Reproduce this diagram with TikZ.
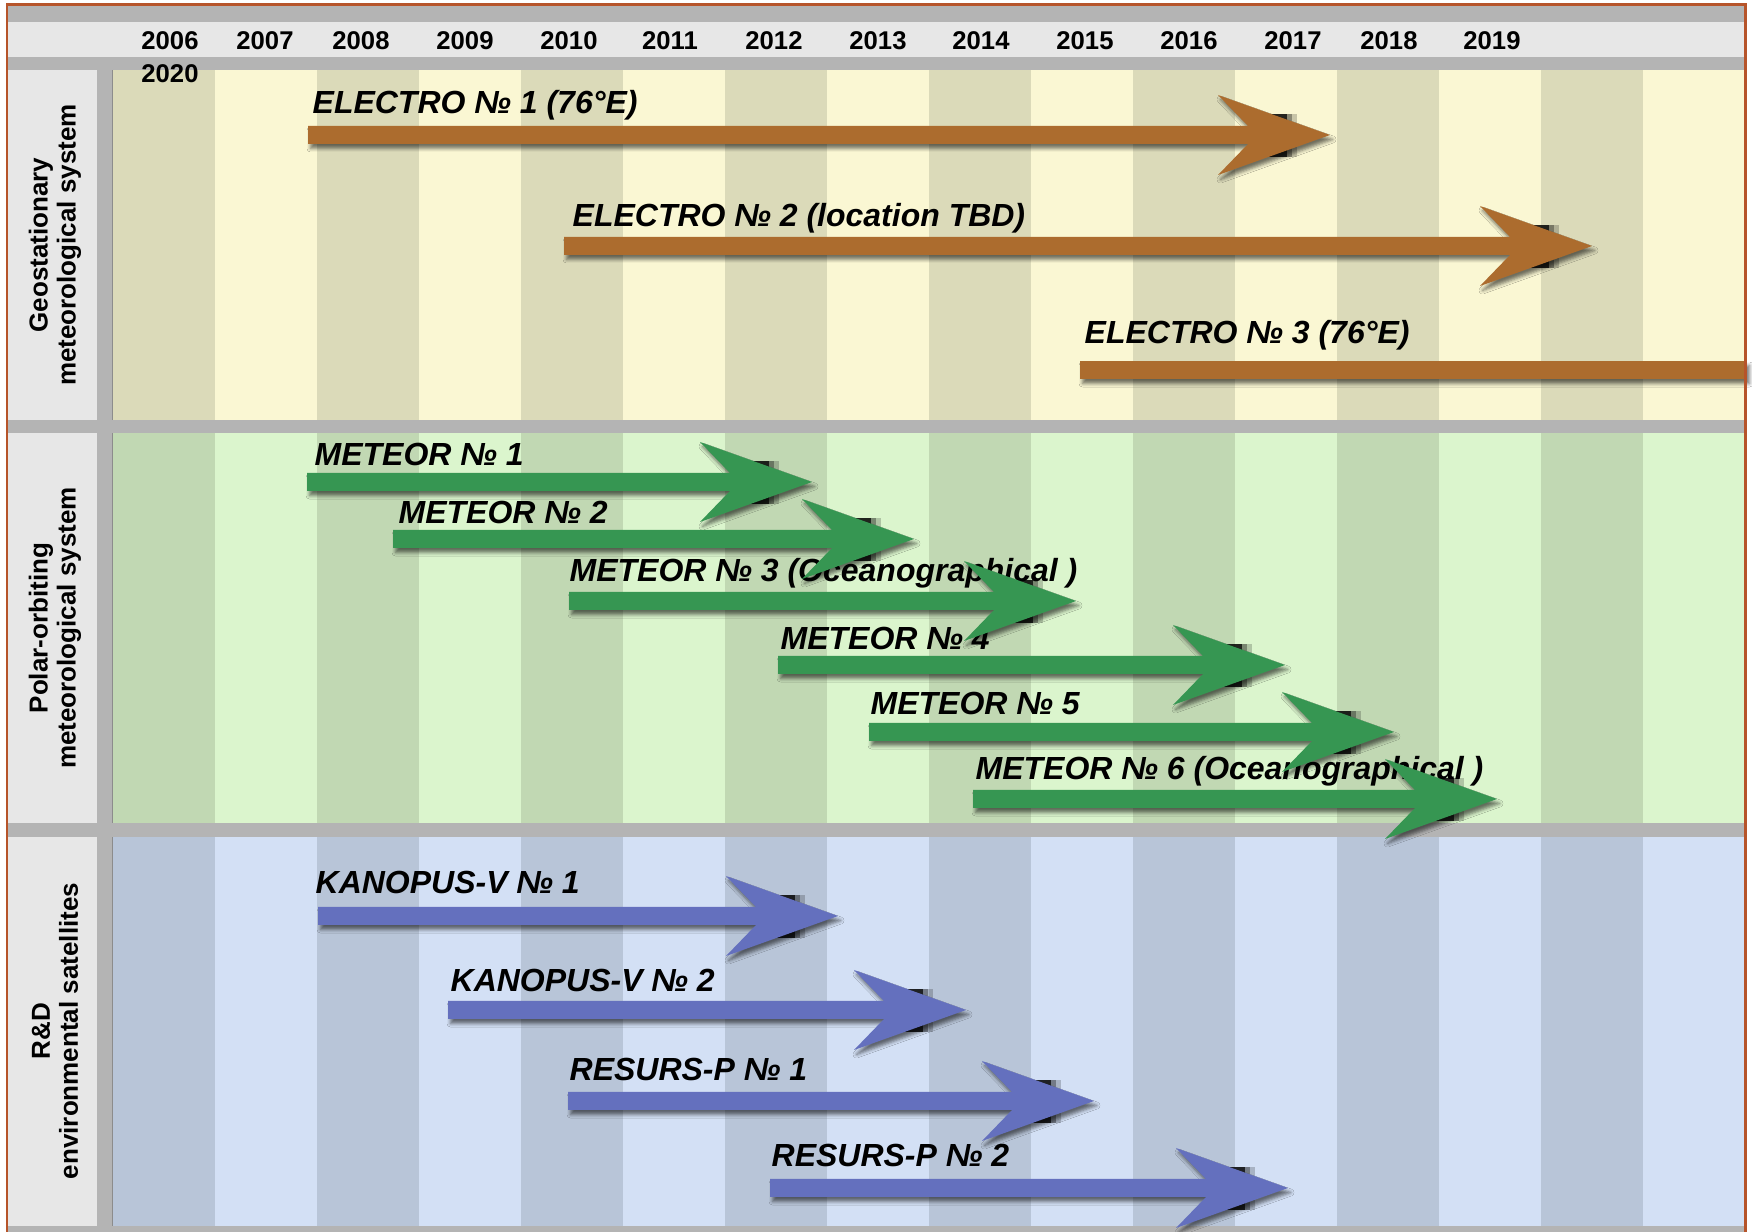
\documentclass[tikz,border=0pt]{standalone}
\usepackage{fontspec}
\setmainfont{Liberation Sans}
\usetikzlibrary{shadows.blur}
\definecolor{frame}{RGB}{182,84,42}
\definecolor{band}{RGB}{180,180,180}
\definecolor{pale}{RGB}{231,231,231}
\definecolor{geoD}{RGB}{219,218,185}
\definecolor{geoL}{RGB}{250,247,211}
\definecolor{polD}{RGB}{193,216,179}
\definecolor{polL}{RGB}{219,245,205}
\definecolor{rdD}{RGB}{184,197,216}
\definecolor{rdL}{RGB}{211,224,245}
\definecolor{brn}{RGB}{172,108,46}
\definecolor{grn}{RGB}{54,150,82}
\definecolor{blu}{RGB}{100,112,190}
\newcommand\satArrow[5]{%
  \coordinate (#1s) at (#2,#3);
  \coordinate (#1t) at (#4,#3);
  \fill[black,opacity=0.85] (#4-78,#3-21) rectangle (#4-43,#3+22);
  \fill[black,opacity=0.45] (#4-43,#3-21) rectangle (#4-38,#3+22);
  \fill[black,opacity=0.2] (#4-38,#3-21) rectangle (#4-33,#3+22);
  \fill[#5, arrshadow] (#1s) ++(0,-9) -- (#4-82,#3-9) -- (#4-112,#3-40) -- (#1t)
     -- (#4-112,#3+40) -- (#4-82,#3+9) -- (#2,#3+9) -- cycle;
}
\begin{document}
\begin{tikzpicture}[x=0.1mm,y=-0.1mm,
  lbl/.style={font=\bfseries\itshape\fontsize{9.1}{11}\selectfont, anchor=base west, inner sep=0pt},
  yr/.style={font=\bfseries\fontsize{7.3}{8}\selectfont, anchor=base, inner sep=0pt},
  side/.style={font=\bfseries\fontsize{7.4}{8}\selectfont, rotate=90, align=center, inner sep=0pt},
  arrshadow/.style={blur shadow={shadow xshift=0.25mm, shadow yshift=-0.45mm, shadow blur radius=0.35mm, shadow opacity=55}}]
\useasboundingbox (0,0) rectangle (1752,1232);
\clip (0,0) rectangle (1752,1232);
\fill[white] (0,0) rectangle (1752,1232);
% header
\fill[band] (8,6) rectangle (1745,22);
\fill[pale] (8,22) rectangle (1745,57);
\fill[band] (8,57) rectangle (1745,70);
% left column
\fill[pale] (8,70) rectangle (97,1232);
\fill[band] (97,70) rectangle (113,1232);
\draw[black!45, line width=0.15mm] (113,70) -- (113,1232);
% stripes
\foreach \i in {0,2,...,14} {
  \fill[geoD] (113+102*\i,70) rectangle (215+102*\i,420);
  \fill[polD] (113+102*\i,433) rectangle (215+102*\i,823);
  \fill[rdD] (113+102*\i,837) rectangle (215+102*\i,1226);
}
\foreach \i in {1,3,...,15} {
  \fill[geoL] (113+102*\i,70) rectangle (215+102*\i,420);
  \fill[polL] (113+102*\i,433) rectangle (215+102*\i,823);
  \fill[rdL] (113+102*\i,837) rectangle (215+102*\i,1226);
}
% separators
\fill[band] (8,420) rectangle (1745,433);
\fill[band] (8,823) rectangle (1745,837);
\fill[band] (8,1226) rectangle (1745,1232);
% years
\node[yr] (y2006) at (170,50) {2006};
\node[yr] (y2007) at (265,50) {2007};
\node[yr] (y2008) at (361,50) {2008};
\node[yr] (y2009) at (465,50) {2009};
\node[yr] (y2010) at (569,50) {2010};
\node[yr] (y2011) at (670,50) {2011};
\node[yr] (y2012) at (774,50) {2012};
\node[yr] (y2013) at (878,50) {2013};
\node[yr] (y2014) at (981,50) {2014};
\node[yr] (y2015) at (1085,50) {2015};
\node[yr] (y2016) at (1189,50) {2016};
\node[yr] (y2017) at (1293,50) {2017};
\node[yr] (y2018) at (1389,50) {2018};
\node[yr] (y2019) at (1492,50) {2019};
\node[yr] (y2020) at (170,83) {2020};
% side labels
\node[side] (geo) at (55,245) {Geostationary\\meteorological system};
\node[side] (pol) at (55,628) {Polar-orbiting\\meteorological system};
\node[side] (rd) at (55,1031) {R\&D\\environmental satellites};
% labels
\node[lbl] (l1) at (312,114) {ELECTRO № 1 (76°E)};
\node[lbl] (l2) at (572,227) {ELECTRO № 2 (location TBD)};
\node[lbl] (l3) at (1084,344) {ELECTRO № 3 (76°E)};
\node[lbl] (l4) at (314,466) {METEOR № 1};
\node[lbl] (l5) at (398,524) {METEOR № 2};
\node[lbl] (l6) at (569,582) {METEOR № 3 (Oceanographical )};
\node[lbl] (l7) at (780,650) {METEOR № 4};
\node[lbl] (l8) at (870,715) {METEOR № 5};
\node[lbl] (l9) at (975,780) {METEOR № 6 (Oceanographical )};
\node[lbl] (l10) at (315,894) {KANOPUS-V № 1};
\node[lbl] (l11) at (450,992) {KANOPUS-V № 2};
\node[lbl] (l12) at (569,1081) {RESURS-P № 1};
\node[lbl] (l13) at (771,1167) {RESURS-P № 2};
% arrows
\satArrow{a1}{308}{135}{1330}{brn}
\satArrow{a2}{564}{246}{1592}{brn}
\coordinate (a3s) at (1080,370);
\fill[brn, arrshadow] (a3s) ++(0,-9) rectangle (1747,379);
\satArrow{a4}{307}{482}{812}{grn}
\satArrow{a5}{393}{539}{914}{grn}
\satArrow{a6}{569}{601}{1076}{grn}
\satArrow{a7}{778}{665}{1285}{grn}
\satArrow{a8}{869}{732}{1394}{grn}
\satArrow{a9}{973}{799}{1497}{grn}
\satArrow{a10}{318}{916}{838}{blu}
\satArrow{a11}{448}{1010}{966}{blu}
\satArrow{a12}{568}{1101}{1094}{blu}
\satArrow{a13}{770}{1188}{1288}{blu}
% frame
\draw[frame, line width=0.3mm] (7,5) rectangle (1745,1260);
\end{tikzpicture}
\end{document}
